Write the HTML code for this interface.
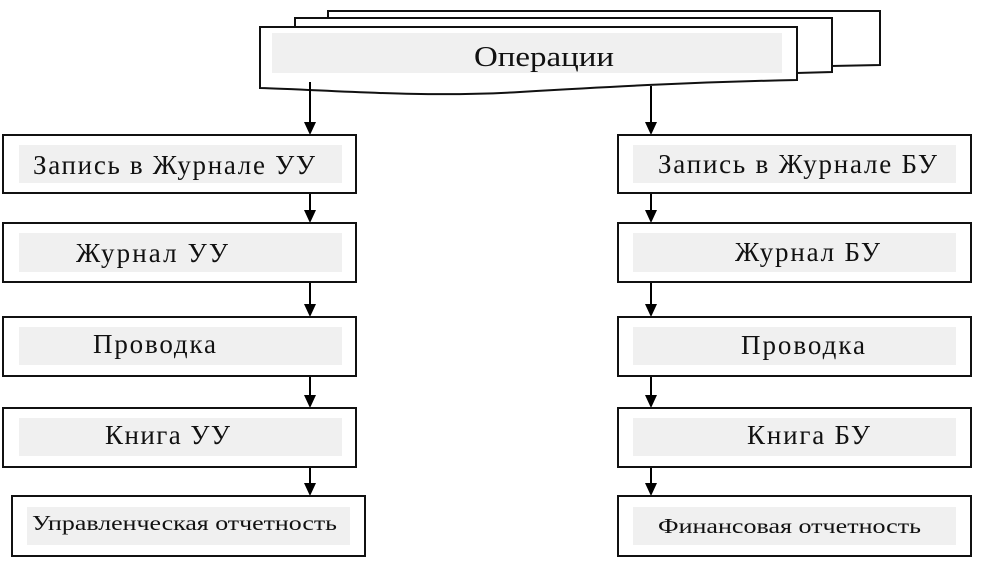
<!DOCTYPE html>
<html><head><meta charset="utf-8"><style>
body{margin:0;width:1004px;height:581px;background:#fff;overflow:hidden}
svg text{font-family:"Liberation Serif",serif;fill:#111}
</style></head><body>
<svg width="1004" height="581" viewBox="0 0 1004 581">
<g stroke="#111" stroke-width="2" fill="#fff">
<path d="M328,11 H880 V65 L832,66 V20 H328 Z"/>
<path d="M295,18 H832 V72 L797,73 V27 H295 Z"/>
<path d="M260,27 H797 V80 C700,82 620,86 520,92 C420,98 330,90 260,88 Z"/>
</g>
<rect x="272" y="33" width="510" height="40" fill="#f0f0f0"/>
<text x="474" y="66" font-size="29" textLength="140" lengthAdjust="spacingAndGlyphs">Операции</text>
<g stroke="#000" stroke-width="2">
<line x1="310" y1="82" x2="310" y2="125"/>
<line x1="651" y1="86" x2="651" y2="125"/>
<line x1="310" y1="193" x2="310" y2="213"/>
<line x1="310" y1="282" x2="310" y2="307"/>
<line x1="310" y1="376" x2="310" y2="398"/>
<line x1="310" y1="467" x2="310" y2="486"/>
<line x1="651" y1="193" x2="651" y2="213"/>
<line x1="651" y1="282" x2="651" y2="307"/>
<line x1="651" y1="376" x2="651" y2="398"/>
<line x1="651" y1="467" x2="651" y2="486"/>
</g>
<g fill="#000">
<path d="M304,122 H316 L310,135Z"/><path d="M645,122 H657 L651,135Z"/>
<path d="M304,210 H316 L310,223Z"/><path d="M645,210 H657 L651,223Z"/>
<path d="M304,304 H316 L310,317Z"/><path d="M645,304 H657 L651,317Z"/>
<path d="M304,395 H316 L310,408Z"/><path d="M645,395 H657 L651,408Z"/>
<path d="M304,483 H316 L310,496Z"/><path d="M645,483 H657 L651,496Z"/>
</g>
<g stroke="#111" stroke-width="2" fill="#fff">
<rect x="3" y="135" width="353" height="58"/>
<rect x="3" y="223" width="353" height="59"/>
<rect x="3" y="317" width="353" height="59"/>
<rect x="3" y="408" width="353" height="59"/>
<rect x="12" y="496" width="353" height="60"/>
<rect x="618" y="135" width="353" height="58"/>
<rect x="618" y="223" width="353" height="59"/>
<rect x="618" y="317" width="353" height="59"/>
<rect x="618" y="408" width="353" height="59"/>
<rect x="618" y="496" width="353" height="60"/>
</g>
<g fill="#f0f0f0">
<rect x="19" y="145" width="323" height="38"/>
<rect x="19" y="233" width="323" height="39"/>
<rect x="19" y="327" width="323" height="38"/>
<rect x="19" y="418" width="323" height="38"/>
<rect x="27" y="507" width="323" height="38"/>
<rect x="633" y="145" width="323" height="38"/>
<rect x="633" y="233" width="323" height="39"/>
<rect x="633" y="327" width="323" height="38"/>
<rect x="633" y="418" width="323" height="38"/>
<rect x="633" y="507" width="323" height="38"/>
</g>
<g font-size="27" lengthAdjust="spacingAndGlyphs">
<text x="33" y="174" textLength="282">Запись в Журнале УУ</text>
<text x="76" y="262" textLength="152">Журнал УУ</text>
<text x="93" y="353" textLength="123">Проводка</text>
<text x="105" y="444" textLength="125">Книга УУ</text>
<text x="658" y="173" textLength="279">Запись в Журнале БУ</text>
<text x="735" y="261" textLength="145">Журнал БУ</text>
<text x="741" y="354" textLength="124">Проводка</text>
<text x="747" y="444" textLength="123">Книга БУ</text>
</g>
<g font-size="21">
<text x="32" y="530" textLength="305" lengthAdjust="spacingAndGlyphs">Управленческая отчетность</text>
<text x="658" y="533" textLength="263" lengthAdjust="spacingAndGlyphs">Финансовая отчетность</text>
</g>
</svg>
</body></html>
